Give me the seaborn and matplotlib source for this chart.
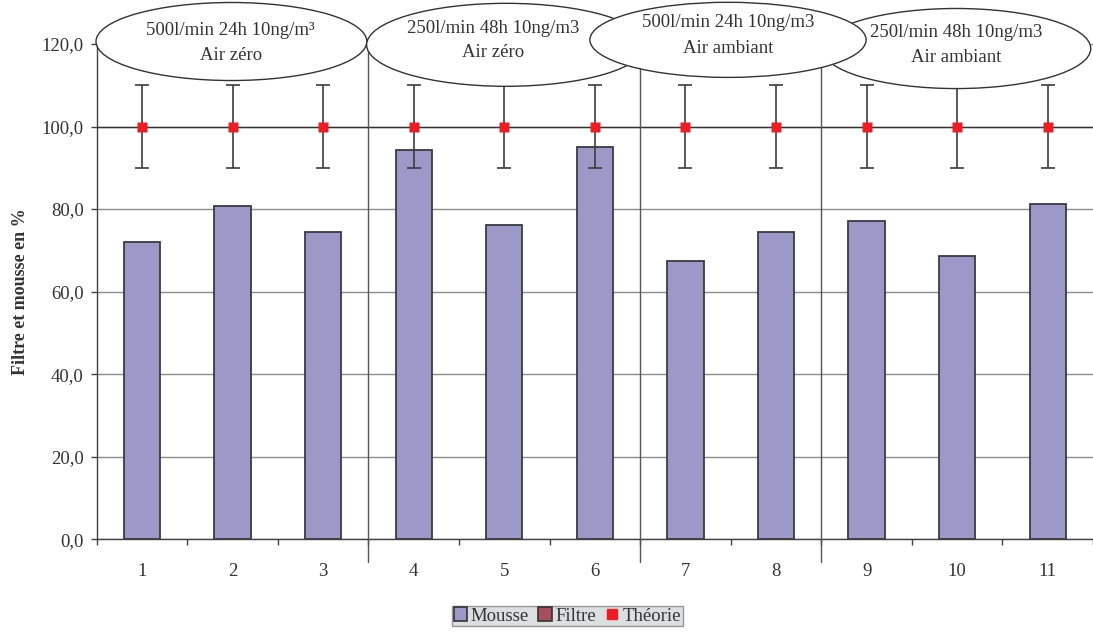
import numpy as np
import pandas as pd
import seaborn as sns
import matplotlib.pyplot as plt
from matplotlib.patches import Ellipse, Patch
from matplotlib.lines import Line2D

# data
essais  = ['1','2','3','4','5','6','7','8','9','10','11']
mousse  = [72.1, 80.7, 74.5, 94.4, 76.1, 95.0, 67.5, 74.4, 77.1, 68.7, 81.2]
theorie = [100.0]*11
theorie_err = [10.0]*11

groupes = ['500l/min 24h 10ng/m³\nAir zéro',
           '250l/min 48h 10ng/m3\nAir zéro',
           '500l/min 24h 10ng/m3\nAir ambiant',
           '250l/min 48h 10ng/m3\nAir ambiant']
separations = [2.5, 5.5, 7.5]
yticks = [0, 20, 40, 60, 80, 100, 120]

sns.set_theme(style='white')
fs = 13.5
plt.rcParams['font.family'] = ['Liberation Serif', 'DejaVu Serif']
plt.rcParams['font.size'] = fs
plt.rcParams['xtick.labelsize'] = fs
plt.rcParams['ytick.labelsize'] = fs
plt.rcParams['axes.labelsize'] = fs
plt.rcParams['legend.fontsize'] = fs

txtcol = '#333333'
fig = plt.figure(figsize=(10.93, 6.32), dpi=100)
ax = fig.add_axes([0.0885, 0.1467, 0.9115, 0.7837])

df = pd.DataFrame({'essai': essais, 'mousse': mousse})
sns.barplot(data=df, x='essai', y='mousse', color='#9c98c8', saturation=1,
            width=0.4, edgecolor='#3a3a44', linewidth=1.3, ax=ax, zorder=2)

xs = np.arange(len(essais))
ax.errorbar(xs, theorie, yerr=theorie_err, fmt='none', ecolor='#3c3c3c',
            elinewidth=1.2, capsize=5, capthick=1.2, zorder=4)
ax.plot(xs, theorie, ls='none', marker='s', ms=7.5, color='#ee1c24', mec='none', zorder=5)

ax.set_xlim(-0.5, 10.448)
ax.set_ylim(0, 120)
ax.set_yticks(yticks)
ax.set_yticklabels(['{:.1f}'.format(v).replace('.', ',') for v in yticks], color=txtcol)
ax.yaxis.grid(True, color='#8c8c8c', lw=1, zorder=0)
ax.set_axisbelow(True)
ax.axhline(100, color='#333333', lw=1, zorder=1)

# ticks between categories, labels in the middle
ax.set_xticks(np.arange(-0.5, 10.6, 1.0))
ax.set_xticklabels([])
ax.set_xticks(xs, minor=True)
ax.set_xticklabels(essais, minor=True, color=txtcol)
ax.tick_params(axis='x', which='major', direction='out', length=4.5, width=1, color='#404040', bottom=True)
ax.tick_params(axis='x', which='minor', length=0, pad=17, labelsize=fs)
ax.tick_params(axis='y', direction='out', length=4.5, width=1, color='#404040', left=True, pad=5, labelsize=fs)
ax.set_xlabel('')
ax.set_ylabel('Filtre et mousse en %', fontweight='bold', color=txtcol, labelpad=9, fontsize=13)

for s in ['top', 'right']:
    ax.spines[s].set_visible(False)
for s in ['left', 'bottom']:
    ax.spines[s].set_color('#404040')
    ax.spines[s].set_linewidth(1)

# separators between test groups
tops = [120.5, 114.3, 114.5]
for xv, tp in zip(separations, tops):
    ax.plot([xv, xv], [-5.6, tp], color='#555555', lw=1, clip_on=False, zorder=3)

# group labels in ellipses (E3 drawn last, on top)
ell = [(0.987, 120.6, 2.99, 18.9), (4.02, 119.8, 3.08, 20.1),
       (6.47, 121.0, 3.05, 18.2), (8.99, 118.9, 2.97, 19.4)]
txtpos = [(0.98, 123.3, 117.3), (3.88, 123.8, 118.0),
          (6.47, 125.2, 119.0), (8.99, 122.8, 116.8)]
for i in [0, 1, 3, 2]:
    cx, cy, w, h = ell[i]
    ax.add_patch(Ellipse((cx, cy), w, h, facecolor='white', edgecolor='#333333',
                         lw=1, clip_on=False, zorder=6))
    l1, l2 = groupes[i].split('\n')
    tx, y1, y2 = txtpos[i]
    ax.text(tx, y1, l1, ha='center', va='center', color=txtcol, zorder=7, clip_on=False)
    ax.text(tx, y2, l2, ha='center', va='center', color=txtcol, zorder=7, clip_on=False)

handles = [Patch(facecolor='#9c98c8', edgecolor='#333333', lw=1.2, label='Mousse'),
           Patch(facecolor='#a64d5e', edgecolor='#333333', lw=1.2, label='Filtre'),
           Line2D([], [], ls='none', marker='s', ms=7, color='#ee1c24', label='Théorie')]
leg = fig.legend(handles=handles, loc='lower center', bbox_to_anchor=(0.519, -0.006),
                 ncol=3, frameon=True, fancybox=False, handlelength=0.7, handleheight=0.7,
                 handletextpad=0.2, columnspacing=0.5, borderpad=0.1, labelcolor=txtcol)
leg.get_frame().set_facecolor('#d2d8d8')
leg.get_frame().set_edgecolor('#808080')
leg.get_frame().set_linewidth(1)

fig.savefig('out.png', dpi=100)
